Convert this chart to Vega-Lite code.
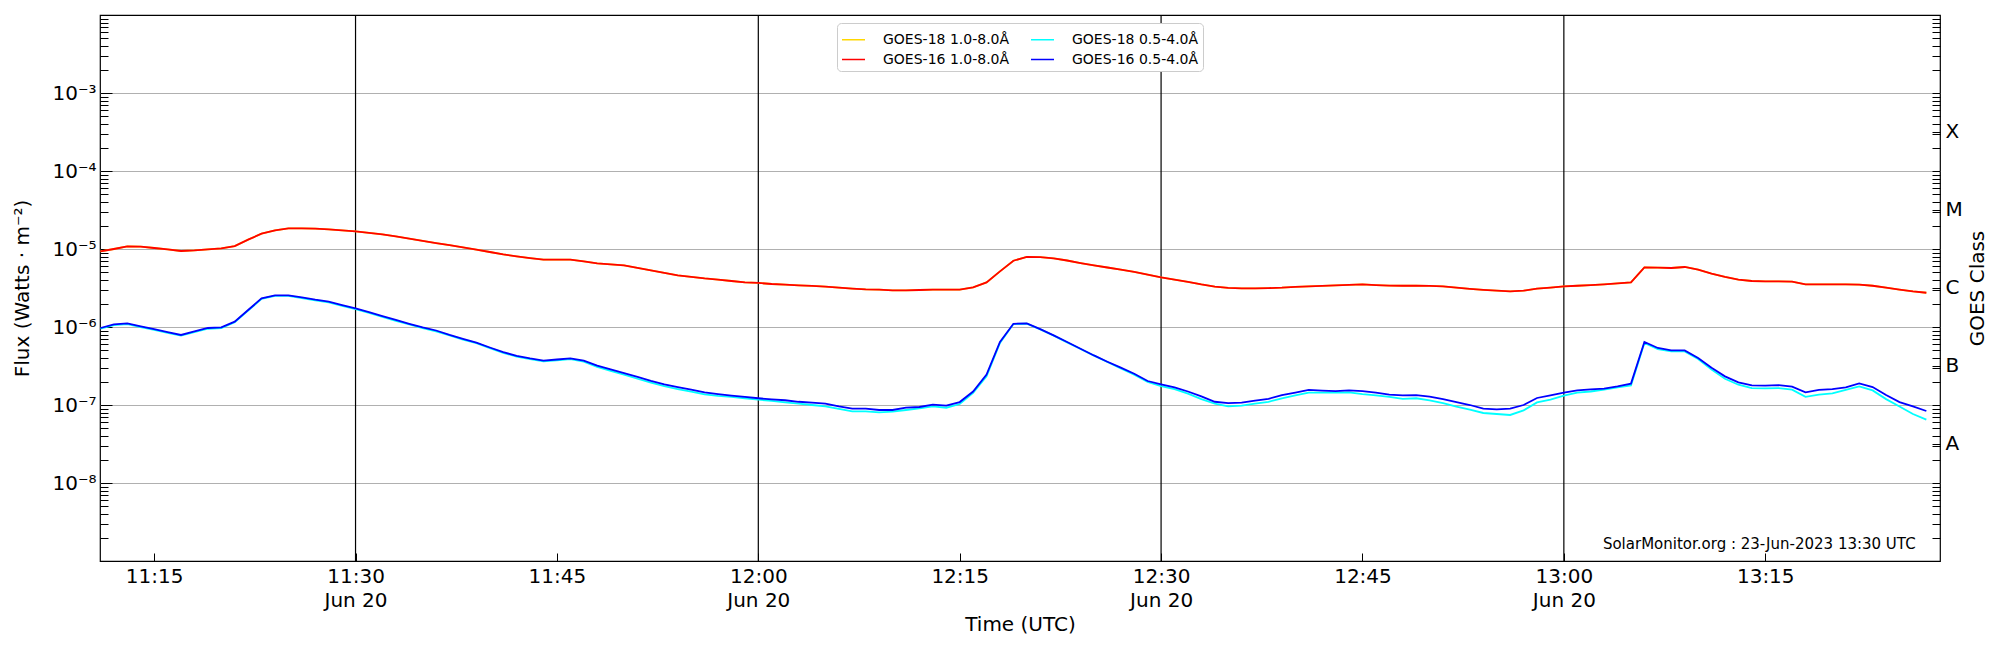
{
"$schema": "https://vega.github.io/schema/vega-lite/v6.json",
"width": 1840, "height": 546,
"autosize": {"type": "none"},
"padding": {"left": 100, "top": 15, "right": 60, "bottom": 89},
"background": "white",
"config": {
  "font": "DejaVu Sans",
  "view": {"stroke": "black", "strokeWidth": 1.2},
  "axis": {"labelFont": "DejaVu Sans", "titleFont": "DejaVu Sans", "labelColor": "black", "titleColor": "black", "tickColor": "black", "tickWidth": 1, "titleFontWeight": "normal", "domain": false, "grid": false}
},
"datasets": {
"goes": [
{"t":"2023-06-20T11:11Z","r":9.32e-6,"c":9.5e-7,"b":9.71e-7},
{"t":"2023-06-20T11:12Z","r":1.00e-5,"c":1.06e-6,"b":1.08e-6},
{"t":"2023-06-20T11:13Z","r":1.08e-5,"c":1.09e-6,"b":1.11e-6},
{"t":"2023-06-20T11:14Z","r":1.07e-5,"c":1.00e-6,"b":1.02e-6},
{"t":"2023-06-20T11:15Z","r":1.03e-5,"c":9.2e-7,"b":9.37e-7},
{"t":"2023-06-20T11:16Z","r":9.88e-6,"c":8.4e-7,"b":8.6e-7},
{"t":"2023-06-20T11:17Z","r":9.43e-6,"c":7.75e-7,"b":7.9e-7},
{"t":"2023-06-20T11:18Z","r":9.6e-6,"c":8.6e-7,"b":8.76e-7},
{"t":"2023-06-20T11:19Z","r":9.88e-6,"c":9.5e-7,"b":9.71e-7},
{"t":"2023-06-20T11:20Z","r":1.018e-5,"c":9.7e-7,"b":9.88e-7},
{"t":"2023-06-20T11:21Z","r":1.09e-5,"c":1.15e-6,"b":1.17e-6},
{"t":"2023-06-20T11:22Z","r":1.32e-5,"c":1.62e-6,"b":1.65e-6},
{"t":"2023-06-20T11:23Z","r":1.57e-5,"c":2.29e-6,"b":2.33e-6},
{"t":"2023-06-20T11:24Z","r":1.73e-5,"c":2.5e-6,"b":2.54e-6},
{"t":"2023-06-20T11:25Z","r":1.84e-5,"c":2.5e-6,"b":2.54e-6},
{"t":"2023-06-20T11:26Z","r":1.84e-5,"c":2.35e-6,"b":2.40e-6},
{"t":"2023-06-20T11:27Z","r":1.82e-5,"c":2.2e-6,"b":2.24e-6},
{"t":"2023-06-20T11:28Z","r":1.78e-5,"c":2.07e-6,"b":2.11e-6},
{"t":"2023-06-20T11:29Z","r":1.73e-5,"c":1.87e-6,"b":1.91e-6},
{"t":"2023-06-20T11:30Z","r":1.68e-5,"c":1.70e-6,"b":1.73e-6},
{"t":"2023-06-20T11:31Z","r":1.61e-5,"c":1.52e-6,"b":1.55e-6},
{"t":"2023-06-20T11:32Z","r":1.54e-5,"c":1.35e-6,"b":1.38e-6},
{"t":"2023-06-20T11:33Z","r":1.45e-5,"c":1.2e-6,"b":1.23e-6},
{"t":"2023-06-20T11:34Z","r":1.36e-5,"c":1.08e-6,"b":1.10e-6},
{"t":"2023-06-20T11:35Z","r":1.27e-5,"c":9.7e-7,"b":9.9e-7},
{"t":"2023-06-20T11:36Z","r":1.19e-5,"c":8.8e-7,"b":9.02e-7},
{"t":"2023-06-20T11:37Z","r":1.12e-5,"c":7.8e-7,"b":7.94e-7},
{"t":"2023-06-20T11:38Z","r":1.05e-5,"c":6.9e-7,"b":7.06e-7},
{"t":"2023-06-20T11:39Z","r":9.82e-6,"c":6.2e-7,"b":6.31e-7},
{"t":"2023-06-20T11:40Z","r":9.15e-6,"c":5.35e-7,"b":5.46e-7},
{"t":"2023-06-20T11:41Z","r":8.53e-6,"c":4.67e-7,"b":4.77e-7},
{"t":"2023-06-20T11:42Z","r":8.04e-6,"c":4.17e-7,"b":4.26e-7},
{"t":"2023-06-20T11:43Z","r":7.64e-6,"c":3.87e-7,"b":3.95e-7},
{"t":"2023-06-20T11:44Z","r":7.29e-6,"c":3.62e-7,"b":3.70e-7},
{"t":"2023-06-20T11:45Z","r":7.29e-6,"c":3.74e-7,"b":3.83e-7},
{"t":"2023-06-20T11:46Z","r":7.29e-6,"c":3.87e-7,"b":3.96e-7},
{"t":"2023-06-20T11:47Z","r":6.94e-6,"c":3.6e-7,"b":3.70e-7},
{"t":"2023-06-20T11:48Z","r":6.54e-6,"c":3.08e-7,"b":3.19e-7},
{"t":"2023-06-20T11:49Z","r":6.35e-6,"c":2.74e-7,"b":2.86e-7},
{"t":"2023-06-20T11:50Z","r":6.16e-6,"c":2.45e-7,"b":2.57e-7},
{"t":"2023-06-20T11:51Z","r":5.73e-6,"c":2.17e-7,"b":2.29e-7},
{"t":"2023-06-20T11:52Z","r":5.32e-6,"c":1.93e-7,"b":2.04e-7},
{"t":"2023-06-20T11:53Z","r":4.94e-6,"c":1.74e-7,"b":1.84e-7},
{"t":"2023-06-20T11:54Z","r":4.59e-6,"c":1.6e-7,"b":1.70e-7},
{"t":"2023-06-20T11:55Z","r":4.39e-6,"c":1.48e-7,"b":1.57e-7},
{"t":"2023-06-20T11:56Z","r":4.20e-6,"c":1.37e-7,"b":1.45e-7},
{"t":"2023-06-20T11:57Z","r":4.06e-6,"c":1.31e-7,"b":1.38e-7},
{"t":"2023-06-20T11:58Z","r":3.89e-6,"c":1.27e-7,"b":1.32e-7},
{"t":"2023-06-20T11:59Z","r":3.73e-6,"c":1.22e-7,"b":1.27e-7},
{"t":"2023-06-20T12:00Z","r":3.67e-6,"c":1.17e-7,"b":1.22e-7},
{"t":"2023-06-20T12:01Z","r":3.56e-6,"c":1.13e-7,"b":1.18e-7},
{"t":"2023-06-20T12:02Z","r":3.49e-6,"c":1.08e-7,"b":1.15e-7},
{"t":"2023-06-20T12:03Z","r":3.41e-6,"c":1.04e-7,"b":1.10e-7},
{"t":"2023-06-20T12:04Z","r":3.36e-6,"c":1.00e-7,"b":1.07e-7},
{"t":"2023-06-20T12:05Z","r":3.29e-6,"c":9.59e-8,"b":1.04e-7},
{"t":"2023-06-20T12:06Z","r":3.19e-6,"c":8.89e-8,"b":9.59e-8},
{"t":"2023-06-20T12:07Z","r":3.10e-6,"c":8.28e-8,"b":8.97e-8},
{"t":"2023-06-20T12:08Z","r":3.03e-6,"c":8.28e-8,"b":8.97e-8},
{"t":"2023-06-20T12:09Z","r":3.01e-6,"c":8.04e-8,"b":8.63e-8},
{"t":"2023-06-20T12:10Z","r":2.95e-6,"c":8.21e-8,"b":8.63e-8},
{"t":"2023-06-20T12:11Z","r":2.95e-6,"c":8.63e-8,"b":9.23e-8},
{"t":"2023-06-20T12:12Z","r":2.98e-6,"c":9.05e-8,"b":9.43e-8},
{"t":"2023-06-20T12:13Z","r":3.01e-6,"c":9.59e-8,"b":1.01e-7},
{"t":"2023-06-20T12:14Z","r":3.01e-6,"c":9.23e-8,"b":9.8e-8},
{"t":"2023-06-20T12:15Z","r":3.01e-6,"c":1.03e-7,"b":1.09e-7},
{"t":"2023-06-20T12:16Z","r":3.22e-6,"c":1.43e-7,"b":1.49e-7},
{"t":"2023-06-20T12:17Z","r":3.73e-6,"c":2.33e-7,"b":2.45e-7},
{"t":"2023-06-20T12:18Z","r":5.16e-6,"c":6.24e-7,"b":6.42e-7},
{"t":"2023-06-20T12:19Z","r":7.08e-6,"c":1.09e-6,"b":1.10e-6},
{"t":"2023-06-20T12:20Z","r":7.90e-6,"c":1.10e-6,"b":1.11e-6},
{"t":"2023-06-20T12:21Z","r":7.85e-6,"c":9.32e-7,"b":9.4e-7},
{"t":"2023-06-20T12:22Z","r":7.58e-6,"c":7.74e-7,"b":7.80e-7},
{"t":"2023-06-20T12:23Z","r":7.12e-6,"c":6.35e-7,"b":6.42e-7},
{"t":"2023-06-20T12:24Z","r":6.61e-6,"c":5.22e-7,"b":5.27e-7},
{"t":"2023-06-20T12:25Z","r":6.18e-6,"c":4.29e-7,"b":4.32e-7},
{"t":"2023-06-20T12:26Z","r":5.79e-6,"c":3.56e-7,"b":3.59e-7},
{"t":"2023-06-20T12:27Z","r":5.43e-6,"c":2.95e-7,"b":3.01e-7},
{"t":"2023-06-20T12:28Z","r":5.09e-6,"c":2.45e-7,"b":2.52e-7},
{"t":"2023-06-20T12:29Z","r":4.70e-6,"c":1.97e-7,"b":2.03e-7},
{"t":"2023-06-20T12:30Z","r":4.32e-6,"c":1.75e-7,"b":1.84e-7},
{"t":"2023-06-20T12:31Z","r":4.04e-6,"c":1.60e-7,"b":1.68e-7},
{"t":"2023-06-20T12:32Z","r":3.78e-6,"c":1.40e-7,"b":1.49e-7},
{"t":"2023-06-20T12:33Z","r":3.51e-6,"c":1.19e-7,"b":1.29e-7},
{"t":"2023-06-20T12:34Z","r":3.29e-6,"c":1.04e-7,"b":1.10e-7},
{"t":"2023-06-20T12:35Z","r":3.17e-6,"c":9.59e-8,"b":1.06e-7},
{"t":"2023-06-20T12:36Z","r":3.13e-6,"c":9.79e-8,"b":1.07e-7},
{"t":"2023-06-20T12:37Z","r":3.13e-6,"c":1.04e-7,"b":1.14e-7},
{"t":"2023-06-20T12:38Z","r":3.15e-6,"c":1.10e-7,"b":1.20e-7},
{"t":"2023-06-20T12:39Z","r":3.19e-6,"c":1.22e-7,"b":1.34e-7},
{"t":"2023-06-20T12:40Z","r":3.26e-6,"c":1.33e-7,"b":1.44e-7},
{"t":"2023-06-20T12:41Z","r":3.32e-6,"c":1.44e-7,"b":1.56e-7},
{"t":"2023-06-20T12:42Z","r":3.36e-6,"c":1.44e-7,"b":1.53e-7},
{"t":"2023-06-20T12:43Z","r":3.41e-6,"c":1.44e-7,"b":1.51e-7},
{"t":"2023-06-20T12:44Z","r":3.47e-6,"c":1.45e-7,"b":1.54e-7},
{"t":"2023-06-20T12:45Z","r":3.51e-6,"c":1.38e-7,"b":1.51e-7},
{"t":"2023-06-20T12:46Z","r":3.45e-6,"c":1.33e-7,"b":1.44e-7},
{"t":"2023-06-20T12:47Z","r":3.40e-6,"c":1.27e-7,"b":1.36e-7},
{"t":"2023-06-20T12:48Z","r":3.38e-6,"c":1.20e-7,"b":1.33e-7},
{"t":"2023-06-20T12:49Z","r":3.38e-6,"c":1.22e-7,"b":1.34e-7},
{"t":"2023-06-20T12:50Z","r":3.36e-6,"c":1.15e-7,"b":1.28e-7},
{"t":"2023-06-20T12:51Z","r":3.31e-6,"c":1.06e-7,"b":1.19e-7},
{"t":"2023-06-20T12:52Z","r":3.19e-6,"c":9.51e-8,"b":1.09e-7},
{"t":"2023-06-20T12:53Z","r":3.08e-6,"c":8.70e-8,"b":1.00e-7},
{"t":"2023-06-20T12:54Z","r":2.99e-6,"c":7.90e-8,"b":8.97e-8},
{"t":"2023-06-20T12:55Z","r":2.92e-6,"c":7.67e-8,"b":8.78e-8},
{"t":"2023-06-20T12:56Z","r":2.86e-6,"c":7.45e-8,"b":8.97e-8},
{"t":"2023-06-20T12:57Z","r":2.92e-6,"c":8.53e-8,"b":1.00e-7},
{"t":"2023-06-20T12:58Z","r":3.10e-6,"c":1.08e-7,"b":1.23e-7},
{"t":"2023-06-20T12:59Z","r":3.19e-6,"c":1.17e-7,"b":1.33e-7},
{"t":"2023-06-20T13:00Z","r":3.31e-6,"c":1.32e-7,"b":1.44e-7},
{"t":"2023-06-20T13:01Z","r":3.38e-6,"c":1.44e-7,"b":1.54e-7},
{"t":"2023-06-20T13:02Z","r":3.45e-6,"c":1.49e-7,"b":1.59e-7},
{"t":"2023-06-20T13:03Z","r":3.52e-6,"c":1.57e-7,"b":1.62e-7},
{"t":"2023-06-20T13:04Z","r":3.62e-6,"c":1.68e-7,"b":1.73e-7},
{"t":"2023-06-20T13:05Z","r":3.73e-6,"c":1.78e-7,"b":1.88e-7},
{"t":"2023-06-20T13:06Z","r":5.81e-6,"c":6.24e-7,"b":6.42e-7},
{"t":"2023-06-20T13:07Z","r":5.77e-6,"c":5.22e-7,"b":5.38e-7},
{"t":"2023-06-20T13:08Z","r":5.71e-6,"c":4.87e-7,"b":5.01e-7},
{"t":"2023-06-20T13:09Z","r":5.88e-6,"c":4.87e-7,"b":5.01e-7},
{"t":"2023-06-20T13:10Z","r":5.43e-6,"c":3.89e-7,"b":4.01e-7},
{"t":"2023-06-20T13:11Z","r":4.82e-6,"c":2.84e-7,"b":3.01e-7},
{"t":"2023-06-20T13:12Z","r":4.38e-6,"c":2.17e-7,"b":2.33e-7},
{"t":"2023-06-20T13:13Z","r":4.04e-6,"c":1.82e-7,"b":1.95e-7},
{"t":"2023-06-20T13:14Z","r":3.89e-6,"c":1.65e-7,"b":1.78e-7},
{"t":"2023-06-20T13:15Z","r":3.84e-6,"c":1.63e-7,"b":1.77e-7},
{"t":"2023-06-20T13:16Z","r":3.84e-6,"c":1.65e-7,"b":1.80e-7},
{"t":"2023-06-20T13:17Z","r":3.81e-6,"c":1.57e-7,"b":1.72e-7},
{"t":"2023-06-20T13:18Z","r":3.52e-6,"c":1.27e-7,"b":1.45e-7},
{"t":"2023-06-20T13:19Z","r":3.52e-6,"c":1.36e-7,"b":1.56e-7},
{"t":"2023-06-20T13:20Z","r":3.52e-6,"c":1.41e-7,"b":1.60e-7},
{"t":"2023-06-20T13:21Z","r":3.52e-6,"c":1.56e-7,"b":1.68e-7},
{"t":"2023-06-20T13:22Z","r":3.49e-6,"c":1.73e-7,"b":1.89e-7},
{"t":"2023-06-20T13:23Z","r":3.38e-6,"c":1.54e-7,"b":1.70e-7},
{"t":"2023-06-20T13:24Z","r":3.19e-6,"c":1.19e-7,"b":1.34e-7},
{"t":"2023-06-20T13:25Z","r":3.01e-6,"c":9.59e-8,"b":1.09e-7},
{"t":"2023-06-20T13:26Z","r":2.86e-6,"c":7.67e-8,"b":9.59e-8},
{"t":"2023-06-20T13:27Z","r":2.75e-6,"c":6.48e-8,"b":8.38e-8}
],
"rules": [
{"t":"2023-06-20T11:30Z"},{"t":"2023-06-20T12:00Z"},{"t":"2023-06-20T12:30Z"},{"t":"2023-06-20T13:00Z"}
],
"note": [
{"t":"2023-06-20T13:26:12Z","v":1.41e-9,"label":"SolarMonitor.org : 23-Jun-2023 13:30 UTC"}
]
},
"data": {"name": "goes"},
"encoding": {
  "x": {"field": "t", "type": "temporal",
    "scale": {"type": "utc", "domain": [{"year":2023,"month":6,"date":20,"hours":11,"minutes":10,"seconds":58,"utc":true},{"year":2023,"month":6,"date":20,"hours":13,"minutes":28,"seconds":1,"utc":true}]},
    "axis": {
      "values": [
        {"year":2023,"month":6,"date":20,"hours":11,"minutes":15,"utc":true},
        {"year":2023,"month":6,"date":20,"hours":11,"minutes":30,"utc":true},
        {"year":2023,"month":6,"date":20,"hours":11,"minutes":45,"utc":true},
        {"year":2023,"month":6,"date":20,"hours":12,"minutes":0,"utc":true},
        {"year":2023,"month":6,"date":20,"hours":12,"minutes":15,"utc":true},
        {"year":2023,"month":6,"date":20,"hours":12,"minutes":30,"utc":true},
        {"year":2023,"month":6,"date":20,"hours":12,"minutes":45,"utc":true},
        {"year":2023,"month":6,"date":20,"hours":13,"minutes":0,"utc":true},
        {"year":2023,"month":6,"date":20,"hours":13,"minutes":15,"utc":true}
      ],
      "labelExpr": "utcminutes(datum.value) % 30 == 0 ? [utcFormat(datum.value, '%H:%M'), utcFormat(datum.value, '%b %d')] : utcFormat(datum.value, '%H:%M')",
      "labelFontSize": 20, "labelLineHeight": 24, "labelFlush": false, "labelOverlap": false,
      "tickSize": -8, "labelPadding": 13,
      "title": "Time (UTC)", "titleFontSize": 20, "titleY": 69, "titleBaseline": "alphabetic"
    }
  }
},
"layer": [
{
  "data": {"name": "rules"},
  "mark": {"type": "rule", "color": "black", "strokeWidth": 1.2},
  "encoding": {}
},
{
  "mark": {"type": "line", "strokeWidth": 1.8, "clip": true},
  "encoding": {
    "y": {"field": "r", "type": "quantitative",
      "scale": {"type": "log", "domain": [1e-9, 1e-2], "nice": false},
      "axis": {
        "orient": "left",
        "values": [1e-8, 1e-7, 1e-6, 1e-5, 1e-4, 1e-3],
        "labelExpr": "datum.value < 5e-8 ? '10⁻⁸' : datum.value < 5e-7 ? '10⁻⁷' : datum.value < 5e-6 ? '10⁻⁶' : datum.value < 5e-5 ? '10⁻⁵' : datum.value < 5e-4 ? '10⁻⁴' : '10⁻³'",
        "labelFontSize": 20, "tickSize": -12, "labelPadding": 16,
        "grid": true, "gridColor": "#b0b0b0", "gridWidth": 1,
        "title": "Flux (Watts · m⁻²)", "titleFontSize": 20, "titleAngle": 270,
        "titleX": -72, "titleY": 273, "titleBaseline": "alphabetic", "titleAlign": "center"
      }
    },
    "color": {"datum": "GOES-18 1.0-8.0Å", "type": "nominal",
      "scale": {"domain": ["GOES-18 1.0-8.0Å", "GOES-16 1.0-8.0Å", "GOES-18 0.5-4.0Å", "GOES-16 0.5-4.0Å"], "range": ["#ffd700", "#ff0000", "#00ffff", "#0000ff"]},
      "legend": {"title": null, "orient": "none", "legendX": 737, "legendY": 8, "columns": 2,
        "symbolType": "stroke", "symbolSize": 529, "symbolStrokeWidth": 1.5,
        "labelFontSize": 14, "labelFont": "DejaVu Sans", "labelColor": "black", "labelOffset": 17,
        "columnPadding": 18, "rowPadding": 0, "padding": 4,
        "strokeColor": "#cccccc", "fillColor": "white", "cornerRadius": 4}
    }
  }
},
{
  "mark": {"type": "line", "strokeWidth": 1.8, "clip": true},
  "encoding": {
    "y": {"field": "r", "type": "quantitative",
      "axis": {"orient": "left", "labels": false, "title": null, "grid": false, "tickSize": -8,
        "values": [2e-9,3e-9,4e-9,5e-9,6e-9,7e-9,8e-9,9e-9,2e-8,3e-8,4e-8,5e-8,6e-8,7e-8,8e-8,9e-8,2e-7,3e-7,4e-7,5e-7,6e-7,7e-7,8e-7,9e-7,2e-6,3e-6,4e-6,5e-6,6e-6,7e-6,8e-6,9e-6,2e-5,3e-5,4e-5,5e-5,6e-5,7e-5,8e-5,9e-5,2e-4,3e-4,4e-4,5e-4,6e-4,7e-4,8e-4,9e-4,2e-3,3e-3,4e-3,5e-3,6e-3,7e-3,8e-3,9e-3]}
    },
    "color": {"datum": "GOES-16 1.0-8.0Å", "type": "nominal"}
  }
},
{
  "mark": {"type": "line", "strokeWidth": 1.8, "clip": true},
  "encoding": {
    "y": {"field": "c", "type": "quantitative",
      "axis": {"orient": "right",
        "values": [3.1623e-8, 3.1623e-7, 3.1623e-6, 3.1623e-5, 3.1623e-4],
        "labelExpr": "datum.value > 1e-4 ? 'X' : datum.value > 1e-5 ? 'M' : datum.value > 1e-6 ? 'C' : datum.value > 1e-7 ? 'B' : 'A'",
        "labelFontSize": 20, "tickSize": -8, "labelPadding": 13, "labelAlign": "left", "grid": false,
        "title": "GOES Class", "titleFontSize": 20, "titleAngle": 270,
        "titleX": 43, "titleY": 273, "titleBaseline": "alphabetic", "titleAlign": "center"}
    },
    "color": {"datum": "GOES-18 0.5-4.0Å", "type": "nominal"}
  }
},
{
  "mark": {"type": "line", "strokeWidth": 1.8, "clip": true},
  "encoding": {
    "y": {"field": "b", "type": "quantitative",
      "axis": {"orient": "right", "labels": false, "title": null, "grid": false, "tickSize": -8,
        "values": [2e-9,3e-9,4e-9,5e-9,6e-9,7e-9,8e-9,9e-9,1e-8,2e-8,3e-8,4e-8,5e-8,6e-8,7e-8,8e-8,9e-8,1e-7,2e-7,3e-7,4e-7,5e-7,6e-7,7e-7,8e-7,9e-7,1e-6,2e-6,3e-6,4e-6,5e-6,6e-6,7e-6,8e-6,9e-6,1e-5,2e-5,3e-5,4e-5,5e-5,6e-5,7e-5,8e-5,9e-5,1e-4,2e-4,3e-4,4e-4,5e-4,6e-4,7e-4,8e-4,9e-4,1e-3,2e-3,3e-3,4e-3,5e-3,6e-3,7e-3,8e-3,9e-3]}
    },
    "color": {"datum": "GOES-16 0.5-4.0Å", "type": "nominal"}
  }
},
{
  "data": {"name": "note"},
  "mark": {"type": "text", "align": "right", "baseline": "alphabetic", "fontSize": 15, "font": "DejaVu Sans", "color": "black"},
  "encoding": {
    "y": {"field": "v", "type": "quantitative", "axis": null},
    "text": {"field": "label"}
  }
}
],
"resolve": {"axis": {"y": "independent"}}
}
